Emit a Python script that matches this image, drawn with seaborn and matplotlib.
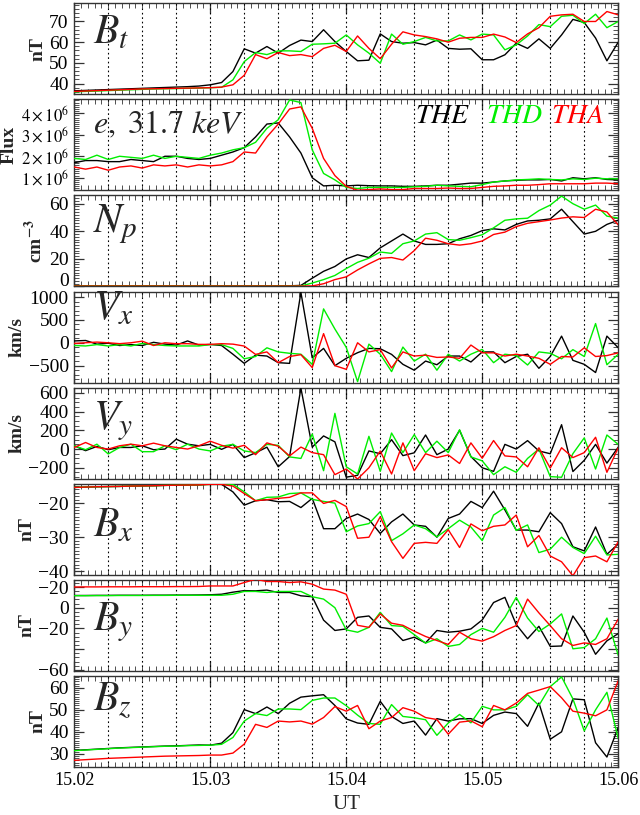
import numpy as np
import matplotlib
matplotlib.use("Agg")
import matplotlib.pyplot as plt
import matplotlib.transforms as mtransforms
from matplotlib.ticker import MultipleLocator, FixedLocator, FixedFormatter
import seaborn as sns

# 3 s spin resolution, UT in decimal hours
ut = np.linspace(15.02, 15.06, 49)
dotted_ut = [15.0225, 15.025, 15.0275, 15.03, 15.0325, 15.035, 15.0375, 15.04,
             15.0425, 15.045, 15.0475, 15.05, 15.0525, 15.055, 15.0575]

# ---- Bt (nT)
bt_the = [36.5, 36.7, 36.9, 37.1, 37.3, 37.5, 37.7, 37.9, 38.1, 38.3, 38.5, 38.8,
          39.4, 40.5, 45.8, 56.8, 54.7, 57.9, 54.7, 58.4, 61.0, 60.3, 66.0, 60.3, 55.5,
          51.0, 51.3, 64.0, 60.3, 59.5, 59.8, 58.7, 61.0, 57.0, 56.6, 56.8, 51.5, 51.5,
          53.9, 59.5, 57.0, 61.6, 57.0, 63.5, 71.0, 69.5, 62.0, 51.0, 60.0]
bt_thd = [36.0, 36.2, 36.4, 36.6, 36.8, 37.0, 37.2, 37.4, 37.5, 37.6, 37.7, 37.8,
          38.0, 38.2, 41.8, 50.6, 55.0, 54.0, 55.8, 55.8, 55.5, 59.0, 59.2, 59.5, 63.5,
          58.7, 54.7, 49.8, 63.9, 59.0, 60.3, 62.3, 60.6, 60.6, 63.5, 61.1, 63.9, 63.5,
          56.3, 58.7, 63.0, 68.5, 67.5, 72.5, 73.0, 69.0, 73.5, 67.0, 70.0]
bt_tha = [36.2, 36.4, 36.6, 36.8, 37.0, 37.2, 37.4, 37.5, 37.6, 37.7, 37.8, 37.9,
          38.0, 38.3, 39.4, 44.0, 54.0, 52.0, 55.0, 53.5, 54.0, 53.0, 57.0, 58.5, 55.5,
          63.0, 57.0, 52.0, 59.0, 65.0, 63.5, 62.7, 61.6, 60.0, 61.9, 62.3, 62.3, 63.9,
          62.5, 59.8, 64.0, 67.0, 72.5, 73.2, 73.5, 70.0, 70.0, 74.8, 73.2]

# ---- electron flux, 31.7 keV (units of 1e6)
fx_the = [1.70, 1.80, 1.80, 1.75, 1.75, 1.85, 1.80, 1.75, 2.00, 2.00, 1.90, 1.85,
          1.90, 2.05, 2.20, 2.40, 2.90, 3.50, 3.55, 2.90, 2.15, 1.00, 0.62, 0.65, 0.62,
          0.65, 0.63, 0.62, 0.62, 0.60, 0.60, 0.62, 0.65, 0.65, 0.70, 0.75, 0.75, 0.80,
          0.85, 0.88, 0.90, 0.90, 0.92, 0.85, 1.00, 0.95, 1.00, 0.92, 0.90]
fx_thd = [1.90, 1.85, 2.05, 1.85, 2.00, 1.95, 1.90, 2.05, 1.90, 2.00, 1.95, 1.90,
          2.05, 2.15, 2.30, 2.40, 2.65, 3.30, 3.70, 4.62, 4.50, 2.30, 1.20, 0.90, 0.55,
          0.50, 0.55, 0.55, 0.55, 0.55, 0.58, 0.60, 0.65, 0.62, 0.60, 0.58, 0.68, 0.80,
          0.85, 0.90, 0.92, 0.95, 0.92, 0.90, 0.95, 0.92, 0.98, 0.95, 0.95]
fx_tha = [1.50, 1.40, 1.50, 1.35, 1.50, 1.55, 1.45, 1.60, 1.55, 1.60, 1.50, 1.60,
          1.55, 1.60, 1.75, 2.20, 2.15, 2.90, 3.50, 4.20, 4.30, 3.30, 1.90, 1.10, 0.60,
          0.42, 0.45, 0.48, 0.45, 0.45, 0.50, 0.50, 0.50, 0.52, 0.50, 0.50, 0.55, 0.60,
          0.62, 0.65, 0.65, 0.68, 0.72, 0.72, 0.72, 0.72, 0.75, 0.75, 0.72]

# ---- Np (cm^-3)
np_the = [0.5, 0.5, 0.5, 0.5, 0.5, 0.5, 0.5, 0.5, 0.5, 0.5, 0.5, 0.5,
          0.5, 0.5, 0.5, 0.5, 0.5, 0.5, 0.5, 0.5, 0.8, 6.0, 11.0, 14.5, 20.0,
          23.0, 21.0, 28.0, 33.0, 38.0, 33.0, 30.5, 30.5, 31.0, 34.6, 37.0, 40.5, 41.8,
          41.0, 45.0, 47.5, 48.0, 49.0, 56.0, 47.0, 38.0, 40.0, 45.0, 48.0]
np_thd = [0.4, 0.4, 0.4, 0.4, 0.4, 0.4, 0.4, 0.4, 0.4, 0.4, 0.4, 0.4,
          0.4, 0.4, 0.4, 0.4, 0.4, 0.4, 0.4, 0.4, 0.4, 2.5, 5.0, 8.0, 13.0,
          17.5, 20.5, 25.0, 24.0, 31.0, 33.0, 38.0, 39.0, 34.0, 33.5, 35.4, 37.5, 42.5,
          48.0, 49.0, 49.5, 55.0, 59.0, 65.5, 60.0, 56.0, 59.0, 51.0, 49.6]
np_tha = [0.3, 0.3, 0.3, 0.3, 0.3, 0.3, 0.3, 0.3, 0.3, 0.3, 0.3, 0.3,
          0.3, 0.3, 0.3, 0.3, 0.3, 0.3, 0.3, 0.3, 0.3, 0.4, 2.0, 5.0, 7.0,
          12.0, 16.4, 20.4, 21.0, 19.2, 26.0, 35.0, 33.5, 31.0, 30.0, 31.0, 33.0, 37.7,
          39.4, 43.4, 45.8, 47.0, 48.2, 49.6, 50.5, 50.0, 56.0, 54.0, 44.6]

# ---- Vx (km/s)
vx_the = [40, 50, -30, -10, -60, -40, -60, 10, -30, -50, 40, -50,
          -36, -60, -250, -450, -270, -290, -435, -450, 1100, -330, -123, -500, -340,
          -217, -123, -130, -254, -471, -600, -400, -480, -290, -290, -420, -200, -200,
          -435, -300, -250, -558, -300, 145, -384, -471, -650, 145, -109]
vx_thd = [-60, -70, -40, -70, -40, -70, -15, -40, -60, -70, -70, -70,
          -40, -40, -123, -350, -300, -110, -200, -230, -250, -471, 740, 300, -100,
          -850, -30, -250, -630, -94, -400, -250, -600, -250, -400, -250, -145, -435,
          -250, -280, -486, -200, -230, -350, -150, -300, 420, -480, -250]
vx_tha = [-15, 0, 15, 0, -20, 0, 35, -60, 0, -20, -20, -35,
          -36, -20, -30, -72, -254, -200, -435, -300, -260, -543, 200, -500, -580,
          0, -200, -150, -550, -200, -290, -270, -320, -310, -340, -50, -220, -220,
          -290, -250, -290, -340, -471, -300, -310, -110, -300, -280, -220]

# ---- Vy (km/s)
vy_the = [35, -17, 28, -7, 17, 17, 35, -7, 0, 105, 52, 35,
          50, -3, 50, -91, -40, 20, -189, -80, 650, 21, 140, 77, -300,
          -280, -20, -50, 100, -70, -40, 150, -60, 0, 200, -80, -200, -238,
          50, 0, 90, -20, -50, 260, -240, -120, 50, -150, 20]
vy_thd = [35, -7, 52, -52, 17, 52, -28, -28, 35, -7, 52, 0,
          -20, 30, 50, -20, -38, 50, 40, -84, -100, 160, -231, 381, -189,
          -266, 136, -238, 171, -38, 154, -38, 84, -38, 206, -84, -126, -273,
          -189, -248, -100, 0, -294, -301, -49, 119, -213, 150, 49]
vy_tha = [17, 70, 17, 0, 35, 52, 35, 63, 35, 17, 0, 35,
          84, 40, 10, 40, -60, 66, 30, -73, 21, -38, -60, -273, -213,
          -320, -200, -21, -266, 66, -231, -50, -91, -63, -154, 66, -98, 91,
          -73, -84, -189, 14, -203, 14, -91, -38, 126, -248, 14]

# ---- Bx (nT)
bx_the = [-15.4, -15.3, -15.2, -15.15, -15.1, -15.0, -14.95, -14.9, -14.8, -14.75, -14.7, -14.65,
          -14.4, -14.5, -16.7, -20.6, -19.3, -19.0, -19.6, -19.5, -21.3, -18.6, -27.5, -27.5,
          -24.5, -23.2, -24.8, -28.9, -25.5, -23.2, -26.4, -26.8, -30.0, -24.5, -23.2, -19.5,
          -21.3, -16.5, -22.0, -27.9, -27.9, -28.4, -22.8, -26.0, -32.8, -34.0, -27.0, -35.0, -32.0]
bx_thd = [-15.4, -15.3, -15.2, -15.15, -15.1, -15.0, -14.95, -14.9, -14.8, -14.75, -14.7, -14.65,
          -14.5, -14.5, -14.5, -16.7, -19.3, -18.3, -18.2, -17.2, -17.0, -18.9, -19.5, -20.0,
          -28.4, -26.7, -26.0, -22.5, -31.0, -29.0, -26.4, -27.5, -29.9, -27.5, -25.0, -27.0,
          -31.0, -23.5, -21.3, -28.0, -26.4, -34.5, -33.5, -30.0, -33.0, -34.8, -29.7, -35.2, -35.0]
bx_tha = [-15.4, -15.3, -15.2, -15.15, -15.1, -15.0, -14.95, -14.9, -14.8, -14.75, -14.7, -14.65,
          -14.5, -14.5, -15.0, -17.2, -19.3, -19.0, -18.6, -18.3, -17.0, -17.0, -20.1, -19.2,
          -21.0, -30.3, -30.0, -24.0, -31.3, -36.2, -31.8, -31.5, -31.8, -27.8, -33.0, -26.1,
          -28.1, -26.8, -26.4, -23.5, -32.8, -29.5, -35.5, -37.2, -41.3, -36.0, -35.5, -37.2, -31.3]

# ---- By (nT)
by_the = [11.8, 11.8, 11.9, 11.9, 12.0, 12.0, 12.0, 12.1, 12.1, 12.2, 12.2, 12.3,
          12.5, 13.0, 15.0, 16.5, 16.3, 17.0, 14.7, 14.7, 11.5, 10.6, -12.0, -22.0,
          -20.5, -9.3, -8.0, -19.0, -20.5, -31.7, -28.5, -34.0, -22.0, -23.7, -22.7, -20.5,
          -11.8, 5.0, 10.0, -16.3, -30.0, -18.0, -37.4, -37.0, -8.0, -23.7, -45.0, -32.0, -25.0]
by_thd = [11.6, 11.6, 11.7, 11.7, 11.8, 11.8, 11.8, 11.9, 11.9, 12.0, 12.0, 12.0,
          12.0, 12.0, 13.0, 15.7, 15.7, 14.7, 15.7, 15.7, 15.7, 10.6, 8.3, 0.0,
          -21.4, -23.7, -19.0, -4.5, -17.3, -18.0, -26.0, -34.2, -30.0, -37.4, -35.5, -26.0,
          -20.0, -23.7, -9.3, 10.0, -10.0, -23.0, -15.7, -6.0, -39.7, -38.5, -30.0, -10.0, -46.0]
by_tha = [20.0, 20.1, 20.1, 20.2, 20.2, 20.2, 20.3, 20.3, 20.3, 20.4, 20.4, 20.5,
          21.0, 21.0, 21.0, 24.3, 27.5, 25.3, 25.3, 24.3, 25.0, 22.7, 18.0, 17.0,
          13.0, -17.0, -19.0, -6.0, -15.0, -17.0, -22.7, -27.8, -31.7, -35.5, -23.7, -30.0,
          -32.3, -28.0, -22.0, -17.3, 8.3, -5.0, -17.3, -30.0, -36.5, -34.0, -35.5, -30.0, -11.0]

# ---- Bz (nT)
bz_the = [31.5, 31.8, 32.1, 32.4, 32.7, 32.9, 33.1, 33.3, 33.5, 33.6, 33.8, 34.0,
          33.9, 34.8, 39.6, 50.1, 48.3, 51.3, 48.3, 53.0, 55.8, 56.4, 56.9, 52.0,
          45.9, 44.0, 43.4, 53.9, 47.0, 43.8, 44.9, 38.5, 46.0, 44.9, 45.9, 46.0,
          43.8, 47.5, 49.0, 48.3, 42.5, 53.1, 36.6, 40.0, 55.0, 54.6, 35.0, 28.5, 42.0]
bz_thd = [31.4, 31.7, 32.0, 32.3, 32.6, 32.8, 33.0, 33.2, 33.4, 33.5, 33.7, 33.8,
          33.9, 34.3, 37.4, 44.9, 48.3, 47.4, 50.4, 50.4, 50.1, 54.3, 55.4, 55.4,
          51.9, 47.6, 43.8, 43.4, 52.4, 47.0, 46.4, 45.5, 38.4, 44.0, 47.9, 44.1,
          51.6, 50.0, 50.0, 51.6, 56.9, 52.0, 60.6, 65.0, 55.0, 40.4, 50.0, 58.0, 37.0]
bz_tha = [27.0, 27.3, 27.6, 27.9, 28.1, 28.3, 28.5, 28.7, 28.9, 29.0, 29.1, 29.2,
          29.4, 29.4, 30.3, 34.4, 43.4, 42.0, 44.9, 44.5, 44.9, 43.5, 46.5, 51.5,
          49.4, 52.0, 41.4, 44.9, 46.5, 51.0, 49.4, 46.5, 45.6, 38.9, 44.4, 45.0,
          42.3, 52.0, 50.0, 53.1, 57.5, 59.0, 60.6, 55.5, 49.4, 48.5, 47.3, 50.0, 63.3]

probes = ["THE", "THD", "THA"]
colors = {"THE": "black", "THD": "#00ee00", "THA": "#ff0000"}

flux_ticks = [1e6, 2e6, 3e6, 4e6]
flux_labels = [r"$1\times10^6$", r"$2\times10^6$", r"$3\times10^6$", r"$4\times10^6$"]

# (series, ylabel, name, name size, ylim, yticks, yticklabels, minor step, name y)
panels = [
    ((bt_the, bt_thd, bt_tha), "nT", r"$B_t$", 30, (34.8, 78.8), [40, 50, 60, 70], None, 2, 0.56),
    ((np.array(fx_the) * 1e6, np.array(fx_thd) * 1e6, np.array(fx_tha) * 1e6), "Flux",
     r"$e,\ 31.7\ keV$", 23, (0.41e6, 4.65e6), flux_ticks, flux_labels, 0.1e6, 0.62),
    ((np_the, np_thd, np_tha), r"cm$^{\mathbf{-3}}$", r"$N_p$", 30, (0, 66), [0, 20, 40, 60], None, 2, 0.6),
    ((vx_the, vx_thd, vx_tha), "km/s", r"$V_x$", 30, (-870, 1120), [-500, 0, 500, 1000], None, 100, 0.69),
    ((vy_the, vy_thd, vy_tha), "km/s", r"$V_y$", 30, (-316, 656), [-200, 0, 200, 400, 600], None, 50, 0.54),
    ((bx_the, bx_thd, bx_tha), "nT", r"$B_x$", 30, (-41, -14.3), [-40, -30, -20], None, 1, 0.42),
    ((by_the, by_thd, by_tha), "nT", r"$B_y$", 30, (-61, 27), [-60, -40, -20, 0, 20],
     ["\u221260", "", "\u221220", "0", "\u221220"], 4, 0.45),
    ((bz_the, bz_thd, bz_tha), "nT", r"$B_z$", 30, (24, 65.5), [30, 40, 50, 60], None, 1, 0.62),
]

sns.set_theme(style="ticks")
plt.rcParams["font.family"] = ["Liberation Serif", "DejaVu Serif"]
plt.rcParams["mathtext.fontset"] = "stix"
plt.rcParams["axes.unicode_minus"] = True

fig, axes = plt.subplots(8, 1, figsize=(6.4, 8.15), dpi=100, sharex=True)
fig.subplots_adjust(left=0.116, right=0.966, top=0.996, bottom=0.059, hspace=0.055)

for ax, (series, ylab, name, nsize, ylim, yt, ytl, minor, name_y) in zip(axes, panels):
    for x in dotted_ut:
        ax.axvline(x, color="black", ls=(0, (1.5, 2.5)), lw=0.8, zorder=1)
    for probe, vals in zip(probes, series):
        sns.lineplot(x=ut, y=vals, ax=ax, color=colors[probe], lw=1.0,
                     errorbar=None, legend=False, zorder=3)
    ax.set_xlim(15.02, 15.06)
    ax.set_ylim(*ylim)
    ax.yaxis.set_major_locator(FixedLocator(yt))
    if ytl is not None:
        ax.yaxis.set_major_formatter(FixedFormatter(ytl))
    ax.yaxis.set_minor_locator(MultipleLocator(minor))
    ax.xaxis.set_major_locator(MultipleLocator(0.01))
    ax.xaxis.set_minor_locator(MultipleLocator(0.0005))
    ax.tick_params(which="both", direction="in", top=True, right=True, colors="#333333")
    ax.tick_params(which="major", length=7, width=0.9, labelsize=14, labelcolor="black", pad=4)
    ax.tick_params(which="minor", length=3.5, width=0.6)
    for sp in ax.spines.values():
        sp.set_linewidth(1.0)
        sp.set_color("#333333")
    ax.set_ylabel(ylab, fontsize=14, fontweight="bold", labelpad=2)
    ax.set_xlabel("")
    ax.text(0.035, name_y, name, transform=ax.transAxes, fontsize=nsize,
            va="baseline", ha="left", zorder=5)

axes[1].tick_params(axis="y", which="major", labelsize=12)

# lift the "0" of the density panel clear of the panel below
fig.canvas.draw()
lift = mtransforms.ScaledTranslation(0, 5 / 72, fig.dpi_scale_trans)
axes[2].get_yticklabels()[0].set_transform(axes[2].get_yticklabels()[0].get_transform() + lift)

# probe legend in the flux panel
for probe, xpos in zip(probes, [0.627, 0.757, 0.877]):
    axes[1].text(xpos, 0.74, r"$\mathit{" + probe + "}$", transform=axes[1].transAxes,
                 color=colors[probe], fontsize=20, va="baseline", ha="left")

for ax in axes[:-1]:
    ax.tick_params(axis="x", labelbottom=False)
axes[-1].tick_params(axis="x", which="major", labelsize=13)
axes[-1].xaxis.set_major_formatter(plt.FuncFormatter(lambda v, p: f"{v:.2f}"))
axes[-1].set_xlabel("UT", fontsize=15, labelpad=4)

fig.savefig("out.png", dpi=100)
